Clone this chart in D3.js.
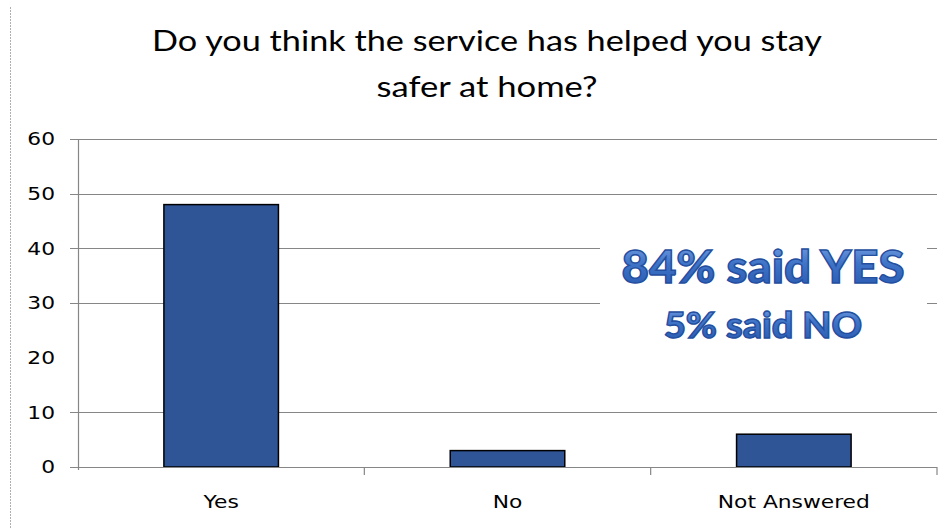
<!DOCTYPE html>
<html>
<head>
<meta charset="utf-8">
<script src="https://cdn.jsdelivr.net/npm/d3@7"></script>
<style>
  body { margin: 0; background: #fff; }
  svg { display: block; }
</style>
</head>
<body>
<div id="chart"></div>
<script>
// data
const categories = ["Yes", "No", "Not Answered"];
const counts = [48, 3, 6];
const yTicks = [0, 10, 20, 30, 40, 50, 60];
const hiddenGrid = [20]; // this gridline doesn't show in the original
const titleLines = ["Do you think the service has helped you stay", "safer at home?"];
const noteLines = ["84% said YES", "5% said NO"];

const width = 952, height = 528;
const margin = {top: 139, right: 15, bottom: 61, left: 78};
const plotW = width - margin.left - margin.right;
const plotH = height - margin.top - margin.bottom;

const gridColor = "#868686";
const barColor = "#2f5597";
const labelFont = "'DejaVu Sans', Verdana, sans-serif";
const stretch = 1.21; // labels in the original are a bit wide

const svg = d3.select('#chart').append('svg')
  .attr('width', width)
  .attr('height', height);

// stretch text horizontally to a given width
function fitWidth(sel, w) {
  sel.each(function() {
    const t = d3.select(this);
    const target = w != null ? w : this.getComputedTextLength() * stretch;
    t.attr('textLength', target).attr('lengthAdjust', 'spacingAndGlyphs');
  });
}

// left dashed border
svg.append('line')
  .attr('x1', 10.5).attr('x2', 10.5)
  .attr('y1', 7).attr('y2', height)
  .attr('stroke', '#b0b0b0')
  .attr('stroke-dasharray', '2,1');

const x = d3.scaleBand()
  .domain(categories)
  .range([0, plotW])
  .paddingInner(0.6)
  .paddingOuter(0.3);

const y = d3.scaleLinear()
  .domain([0, 60])
  .range([plotH, 0]);

const g = svg.append('g')
  .attr('transform', `translate(${margin.left},${margin.top})`);

// gridlines
g.selectAll('.grid')
  .data(yTicks.filter(d => d > 0 && !hiddenGrid.includes(d)))
  .join('line')
  .attr('class', 'grid')
  .attr('x1', -8).attr('x2', plotW)
  .attr('y1', d => Math.round(y(d)) + 0.5)
  .attr('y2', d => Math.round(y(d)) + 0.5)
  .attr('stroke', gridColor)
  .attr('stroke-width', 1.2);

// y axis
const yAxis = g.append('g')
  .call(d3.axisLeft(y).tickValues(yTicks).tickSize(0).tickPadding(23));
yAxis.select('.domain').remove();
yAxis.selectAll('text')
  .attr('font-family', labelFont)
  .attr('font-size', 18)
  .attr('fill', '#000')
  .call(fitWidth);

g.append('line')
  .attr('x1', 0.5).attr('x2', 0.5)
  .attr('y1', 0).attr('y2', plotH + 3)
  .attr('stroke', gridColor)
  .attr('stroke-width', 1.2);

// white text box behind the annotation hides gridlines
const noteBox = {x0: 600, x1: 927};
g.append('rect')
  .attr('x', noteBox.x0 - margin.left)
  .attr('y', y(44))
  .attr('width', noteBox.x1 - noteBox.x0)
  .attr('height', y(22) - y(44))
  .attr('fill', '#fff');

// bars
g.selectAll('.bar')
  .data(counts)
  .join('rect')
  .attr('class', 'bar')
  .attr('x', (d, i) => x(categories[i]))
  .attr('y', d => y(d))
  .attr('width', x.bandwidth())
  .attr('height', d => y(0) - y(d))
  .attr('fill', barColor)
  .attr('stroke', '#000')
  .attr('stroke-width', 1.5);

// x axis
const step = x.step();
const xAxis = g.append('g')
  .attr('transform', `translate(0,${plotH})`);
xAxis.append('line')
  .attr('x1', -8).attr('x2', plotW)
  .attr('y1', 0.5).attr('y2', 0.5)
  .attr('stroke', gridColor)
  .attr('stroke-width', 1.2);
// separators at the right edge of each category slot
xAxis.selectAll('.sep')
  .data(categories)
  .join('line')
  .attr('class', 'sep')
  .attr('x1', d => x(d) - x.paddingOuter() * step + step)
  .attr('x2', d => x(d) - x.paddingOuter() * step + step)
  .attr('y1', 0).attr('y2', 8)
  .attr('stroke', gridColor)
  .attr('stroke-width', 1.2);
xAxis.selectAll('.cat')
  .data(categories)
  .join('text')
  .attr('class', 'cat')
  .attr('x', d => x(d) + x.bandwidth() / 2)
  .attr('y', 41)
  .attr('text-anchor', 'middle')
  .attr('font-family', labelFont)
  .attr('font-size', 18)
  .text(d => d)
  .call(fitWidth);

// title
const titleWidths = [670, 221];
svg.selectAll('.title')
  .data(titleLines)
  .join('text')
  .attr('class', 'title')
  .attr('x', 487)
  .attr('y', (d, i) => 51 + i * 46)
  .attr('text-anchor', 'middle')
  .attr('font-family', "Lato, 'Open Sans', sans-serif")
  .attr('font-size', 28)
  .attr('fill', '#000')
  .text(d => d)
  .each(function(d, i) { fitWidth(d3.select(this), titleWidths[i]); });

// annotation
const defs = svg.append('defs');
const grad = defs.append('linearGradient')
  .attr('id', 'noteGrad')
  .attr('x1', 0).attr('x2', 0).attr('y1', 0).attr('y2', 1);
grad.append('stop').attr('offset', '0%').attr('stop-color', '#7fa6e6');
grad.append('stop').attr('offset', '45%').attr('stop-color', '#3f74c8');
grad.append('stop').attr('offset', '100%').attr('stop-color', '#2556ad');

const noteSizes = [45, 36];
const noteWidths = [283, 198];
const noteBase = [283, 338];
svg.selectAll('.note')
  .data(noteLines)
  .join('text')
  .attr('class', 'note')
  .attr('x', 763)
  .attr('y', (d, i) => noteBase[i])
  .attr('text-anchor', 'middle')
  .attr('font-family', "Lato, 'Open Sans', sans-serif")
  .attr('font-weight', 900)
  .attr('font-size', (d, i) => noteSizes[i])
  .attr('fill', 'url(#noteGrad)')
  .attr('stroke', '#244e9e')
  .attr('stroke-width', 1.4)
  .text(d => d)
  .each(function(d, i) { fitWidth(d3.select(this), noteWidths[i]); });
</script>
</body>
</html>
